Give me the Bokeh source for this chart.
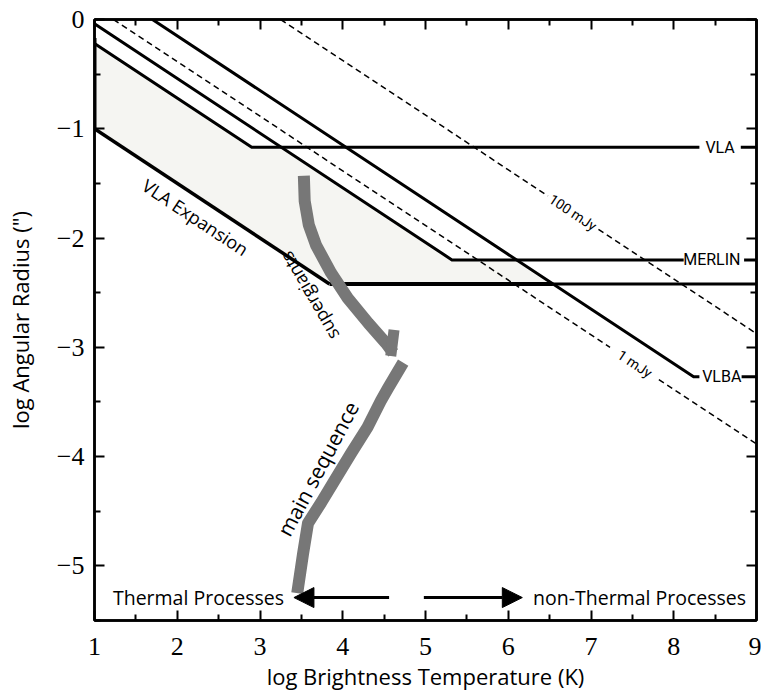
import math
from bokeh.plotting import figure
from bokeh.models import Range1d, FixedTicker, LinearAxis, Arrow, NormalHead
from bokeh.core.properties import value
from bokeh.embed import file_html
from bokeh.resources import INLINE

# ---------------- data ----------------
x_major = [1, 2, 3, 4, 5, 6, 7, 8, 9]
x_minor = [1.5, 2.5, 3.5, 4.5, 5.5, 6.5, 7.5, 8.5]
y_major = [0, -1, -2, -3, -4, -5]
y_minor = [-0.5, -1.5, -2.5, -3.5, -4.5, -5.5]
y_tick_labels = ["0", "\u22121", "\u22122", "\u22123", "\u22124", "\u22125"]

X_MIN, X_MAX = 1, 9
Y_MIN, Y_MAX = -5.5, 0

x_title = "log Brightness Temperature (K)"
y_title = "log Angular Radius (\")"

flux_slope = -0.5  # lines of constant flux density: log r = -0.5 log T + c

# instrument resolution / sensitivity limits
inst_names = ["VLA", "MERLIN", "VLBA"]
inst_start_x = [1.0, 1.0, 1.70]
inst_start_y = [-0.22, -0.04, 0.0]
inst_limit_y = [-1.17, -2.20, -3.27]
inst_label_x = [8.56, 8.46, 8.58]
inst_gap_lo = [8.31, 8.12, 8.31]
inst_gap_hi = [8.81, 8.85, 8.82]

# constant flux lines
flux_names = ["1 mJy", "100 mJy"]
flux_zero_x = [1.23, 3.25]
flux_label_x = [7.53, 6.78]
flux_gap_lo = [7.23, 6.48]
flux_gap_hi = [7.82, 7.09]

# VLA Expansion
exp_left_top = -0.17
exp_left_bottom = -1.0
exp_floor = -2.42
exp_label = "VLA Expansion"
exp_label_x, exp_label_y = 2.22, -1.81

# stellar bands
sg_x = [3.53, 3.54, 3.59, 3.68, 3.86, 4.06, 4.31, 4.52, 4.61]
sg_y = [-1.43, -1.66, -1.88, -2.07, -2.32, -2.55, -2.78, -2.96, -3.05]
sg_hook_x = [4.62, 4.58]
sg_hook_y = [-2.84, -3.08]
sg_label = "supergiants"
sg_label_x, sg_label_y, sg_label_angle = 3.595, -2.53, 120

ms_x = [3.45, 3.52, 3.58, 3.74, 3.90, 4.10, 4.30, 4.46, 4.55, 4.73]
ms_y = [-5.25, -4.89, -4.61, -4.42, -4.22, -3.97, -3.73, -3.49, -3.37, -3.14]
ms_label = "main sequence"
ms_label_x, ms_label_y, ms_label_angle = 3.70, -4.11, 62

# process arrows
arrow_y = -5.29
thermal_tail, thermal_tip = 4.56, 3.41
nonthermal_tail, nonthermal_tip = 4.98, 6.17
thermal_label, thermal_label_right = "Thermal Processes", 3.29
nonthermal_label, nonthermal_label_left = "non-Thermal Processes", 6.30

# ---------------- figure ----------------
W, H = 761, 700
BL, BR, BT, BB = 94, 5, 19, 80
FRAME_W = W - BL - BR
FRAME_H = H - BT - BB
px_x = FRAME_W / (X_MAX - X_MIN)
px_y = FRAME_H / (Y_MAX - Y_MIN)
diag_angle = math.degrees(math.atan(flux_slope * px_y / px_x))

p = figure(width=W, height=H, x_range=Range1d(X_MIN, X_MAX), y_range=Range1d(Y_MIN, Y_MAX),
           output_backend="svg", toolbar_location=None,
           min_border_left=BL, min_border_right=BR, min_border_top=BT, min_border_bottom=BB)
p.grid.visible = False
p.outline_line_color = "black"
p.outline_line_width = 2.5
p.background_fill_color = "white"

label_font = "Open Sans"


def style_axis(ax, ticks, minor):
    ax.ticker = FixedTicker(ticks=ticks, minor_ticks=minor)
    ax.major_tick_in = 10
    ax.major_tick_out = 0
    ax.minor_tick_in = 6
    ax.minor_tick_out = 0
    ax.major_tick_line_width = 2
    ax.minor_tick_line_width = 2
    ax.axis_line_width = 2.5
    ax.axis_line_color = "black"
    ax.major_tick_line_color = "black"
    ax.minor_tick_line_color = "black"


xa = p.xaxis[0]
style_axis(xa, x_major, x_minor)
xa.major_label_text_font = "Liberation Serif"
xa.major_label_text_font_size = "26px"
xa.major_label_text_color = "black"
xa.major_label_standoff = 17
xa.axis_label = x_title
xa.axis_label_text_font = label_font
xa.axis_label_text_font_size = "22px"
xa.axis_label_text_font_style = "normal"
xa.axis_label_text_color = "black"
xa.axis_label_standoff = 3

ya = p.yaxis[0]
style_axis(ya, y_major, y_minor)
ya.major_label_overrides = {t: s for t, s in zip(y_major, y_tick_labels)}
ya.major_label_text_font = "Liberation Serif"
ya.major_label_text_font_size = "26px"
ya.major_label_text_color = "black"
ya.major_label_standoff = 10
ya.axis_label = y_title
ya.axis_label_text_font = label_font
ya.axis_label_text_font_size = "22px"
ya.axis_label_text_font_style = "normal"
ya.axis_label_text_color = "black"
ya.axis_label_standoff = 19

for loc, ticks, minor in (("above", x_major, x_minor), ("right", y_major, y_minor)):
    ax = LinearAxis()
    style_axis(ax, ticks, minor)
    ax.major_label_text_font_size = "0px"
    ax.major_label_standoff = 0
    ax.major_label_text_color = None
    p.add_layout(ax, loc)


def inst_corner(i):
    return inst_start_x[i] + (inst_start_y[i] - inst_limit_y[i]) / (-flux_slope)


def diag_y(x0, y0, x):
    return y0 + flux_slope * (x - x0)


def x_on_diag(x0, y0, y):
    return x0 + (y - y0) / flux_slope


# shaded VLA Expansion region
vx0, vy0 = inst_start_x[0], inst_start_y[0]
mx0, my0 = inst_start_x[1], inst_start_y[1]
bx0, by0 = inst_start_x[2], inst_start_y[2]
exp_corner = x_on_diag(X_MIN, exp_left_bottom, exp_floor)
shade_x = [X_MIN, inst_corner(0), x_on_diag(mx0, my0, inst_limit_y[0]), inst_corner(1),
           x_on_diag(bx0, by0, inst_limit_y[1]), x_on_diag(bx0, by0, exp_floor), exp_corner, X_MIN]
shade_y = [vy0, inst_limit_y[0], inst_limit_y[0], inst_limit_y[1],
           inst_limit_y[1], exp_floor, exp_floor, exp_left_bottom]
p.patch(shade_x, shade_y, fill_color="#f5f5f2", line_color=None)

# constant flux (dashed) lines
for i, name in enumerate(flux_names):
    x0 = flux_zero_x[i]
    p.line([x0, flux_gap_lo[i]], [0, diag_y(x0, 0, flux_gap_lo[i])],
           line_color="black", line_width=1.5, line_dash="6 4")
    p.line([flux_gap_hi[i], X_MAX], [diag_y(x0, 0, flux_gap_hi[i]), diag_y(x0, 0, X_MAX)],
           line_color="black", line_width=1.5, line_dash="6 4")
    p.text([flux_label_x[i]], [diag_y(x0, 0, flux_label_x[i])], text=[name],
           angle=diag_angle, angle_units="deg", text_font=value("Roboto"),
           text_font_size="14px", text_align="center", text_baseline="middle",
           text_color="black")

# instrument lines
for i, name in enumerate(inst_names):
    c = inst_corner(i)
    p.line([inst_start_x[i], c, inst_gap_lo[i]], [inst_start_y[i], inst_limit_y[i], inst_limit_y[i]],
           line_color="black", line_width=3, line_join="miter")
    p.line([inst_gap_hi[i], X_MAX], [inst_limit_y[i], inst_limit_y[i]],
           line_color="black", line_width=3)
    p.text([inst_label_x[i]], [inst_limit_y[i]], text=[name], text_font=value("Roboto"),
           text_font_size="16px", text_align="center", text_baseline="middle",
           text_color="black")

# VLA Expansion outline
p.line([X_MIN, X_MIN], [exp_left_top, exp_left_bottom], line_color="black", line_width=4)
p.line([X_MIN, exp_corner], [exp_left_bottom, exp_floor], line_color="black", line_width=3.5)
bvx = x_on_diag(bx0, by0, exp_floor)
p.line([exp_corner, bvx], [exp_floor, exp_floor], line_color="black", line_width=4)
p.line([bvx, X_MAX], [exp_floor, exp_floor], line_color="black", line_width=3)
p.text([exp_label_x], [exp_label_y], text=[exp_label], angle=diag_angle, angle_units="deg",
       text_font=value(label_font), text_font_size="18px", text_align="center",
       text_baseline="middle", text_color="black")

# stellar bands
band_color = "#777777"
p.line(sg_x, sg_y, line_color=band_color, line_width=12, line_cap="butt", line_join="round")
p.line(sg_hook_x, sg_hook_y, line_color=band_color, line_width=11, line_cap="butt")
p.line(ms_x, ms_y, line_color=band_color, line_width=12, line_cap="butt", line_join="round")
p.text([sg_label_x], [sg_label_y], text=[sg_label], angle=sg_label_angle, angle_units="deg",
       text_font=value(label_font), text_font_size="18px", text_align="center",
       text_baseline="middle", text_color="black")
p.text([ms_label_x], [ms_label_y], text=[ms_label], angle=ms_label_angle, angle_units="deg",
       text_font=value(label_font), text_font_size="21px", text_align="center",
       text_baseline="middle", text_color="black")

# process arrows
for tail, tip in ((thermal_tail, thermal_tip), (nonthermal_tail, nonthermal_tip)):
    p.add_layout(Arrow(end=NormalHead(size=20, fill_color="black", line_color="black", line_width=1),
                       x_start=tail, y_start=arrow_y, x_end=tip, y_end=arrow_y,
                       line_width=3, line_color="black"))
p.text([thermal_label_right], [arrow_y], text=[thermal_label], text_font=value(label_font),
       text_font_size="19.5px", text_align="right", text_baseline="middle", text_color="black")
p.text([nonthermal_label_left], [arrow_y], text=[nonthermal_label], text_font=value(label_font),
       text_font_size="19.5px", text_align="left", text_baseline="middle", text_color="black")

open("out.html", "w").write(file_html(p, INLINE))
